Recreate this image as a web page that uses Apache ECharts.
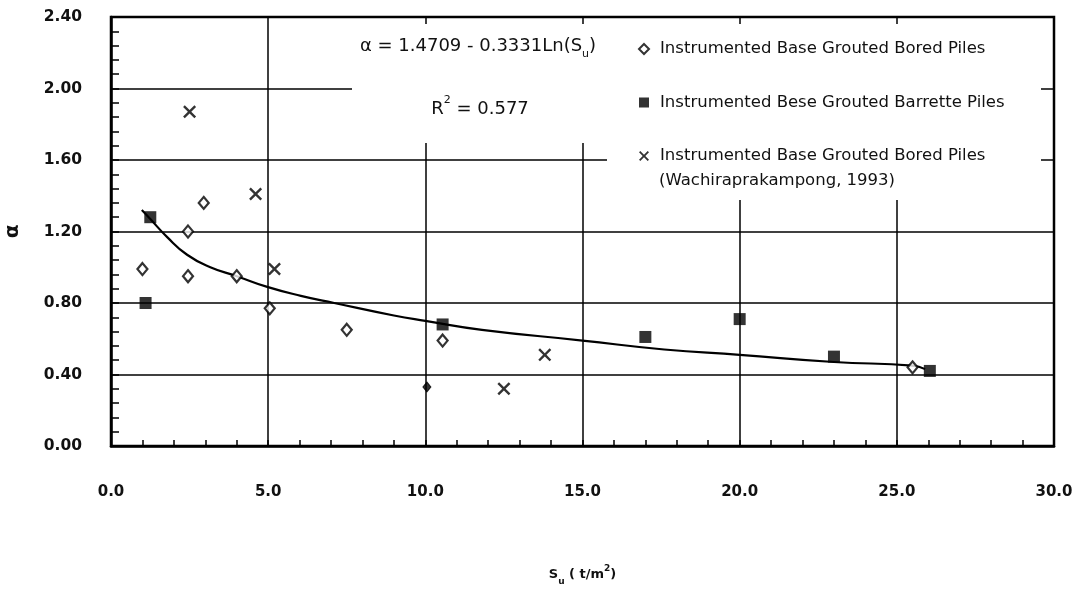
<!DOCTYPE html>
<html>
<head>
<meta charset="utf-8">
<script src="https://cdn.jsdelivr.net/npm/echarts@6/dist/echarts.min.js"></script>
<style>
html,body{margin:0;padding:0;background:#fff;}
#chart{width:1087px;height:603px;}
</style>
</head>
<body>
<div id="chart"></div>
<script>
// ---- data ----
const xTickLabels = ['0.0','5.0','10.0','15.0','20.0','25.0','30.0'];
const yTickLabels = ['0.00','0.40','0.80','1.20','1.60','2.00','2.40'];
const seriesNames = [
  'Instrumented Base Grouted Bored Piles',
  'Instrumented Bese Grouted Barrette Piles',
  'Instrumented Base Grouted Bored Piles (Wachiraprakampong, 1993)'
];
const boredPiles = [[1.0,0.99],[2.45,1.20],[2.45,0.95],[2.95,1.36],[4.0,0.95],[5.05,0.77],[7.5,0.65],[10.55,0.59],[25.5,0.44]];
const boredPilesSolid = [[10.05,0.33]];
const barrettePiles = [[1.1,0.80],[1.25,1.28],[10.55,0.68],[17.0,0.61],[20.0,0.71],[23.0,0.50],[26.05,0.42]];
const wachiraPiles = [[2.5,1.87],[4.6,1.41],[5.2,0.99],[12.5,0.32],[13.8,0.51]];
const trendLine = [[0.98,1.32],[1.25,1.27],[1.78,1.17],[2.42,1.07],[3.16,1.00],[4.0,0.95],[4.97,0.89],[6.04,0.84],[7.1,0.80],[9.0,0.73],[10.0,0.70],[11.8,0.65],[15.0,0.59],[17.6,0.54],[20.0,0.51],[23.0,0.47],[25.5,0.45],[25.9,0.43]];
const equationText = ['α = 1.4709 - 0.3331Ln(S', 'u', ')'];
const r2Text = ['R', '2', ' = 0.577'];
const legendExtraLine = '(Wachiraprakampong, 1993)';

// ---- chart ----
const FONT = 'DejaVu Sans';
const INK = '#111';
const crossPath = 'path://M0,1.3 L1.3,0 L5,3.7 L8.7,0 L10,1.3 L6.3,5 L10,8.7 L8.7,10 L5,6.3 L1.3,10 L0,8.7 L3.7,5 Z';

const chart = echarts.init(document.getElementById('chart'), null, {renderer:'canvas'});
const option = {
  backgroundColor: '#fff',
  animation: false,
  grid: {left:111, right:33, top:17, bottom:157, containLabel:false, outerBoundsMode:'none',
    show:true, borderColor:'#000', borderWidth:2.5, backgroundColor:'transparent'},
  xAxis: {
    type:'value', min:0, max:30, interval:5,
    name:'{a|S}{b|u}{a| ( t/m}{c|2}{a|)}',
    nameLocation:'middle', nameGap:118,
    nameTextStyle:{
      rich:{
        a:{fontFamily:FONT, fontSize:13, color:INK, fontWeight:'bold', lineHeight:22},
        b:{fontFamily:FONT, fontSize:9, color:INK, fontWeight:'bold', verticalAlign:'bottom', lineHeight:22},
        c:{fontFamily:FONT, fontSize:9, color:INK, fontWeight:'bold', verticalAlign:'top', lineHeight:22}
      }
    },
    axisLine:{show:true, lineStyle:{color:'#000', width:2.5}},
    axisTick:{show:true, inside:true, length:6, lineStyle:{color:'#000', width:1.5}},
    minorTick:{show:true, splitNumber:5, length:6, lineStyle:{color:'#000', width:1.5}},
    axisLabel:{margin:39, fontFamily:FONT, fontSize:15, fontWeight:'bold', color:INK,
      formatter:(v)=>xTickLabels[Math.round(v/5)]},
    splitLine:{show:true, lineStyle:{color:'#000', width:1.5}}
  },
  yAxis: {
    type:'value', min:0, max:2.4, interval:0.4,
    name:'α', nameLocation:'middle', nameGap:88, nameRotate:90,
    nameTextStyle:{fontFamily:FONT, fontSize:20, color:INK, fontWeight:'bold'},
    axisLine:{show:true, lineStyle:{color:'#000', width:2.5}},
    axisTick:{show:true, inside:true, length:8, lineStyle:{color:'#000', width:1.5}},
    minorTick:{show:true, splitNumber:5, length:8, lineStyle:{color:'#000', width:1.5}},
    axisLabel:{margin:29, fontFamily:FONT, fontSize:15.5, fontWeight:'bold', color:INK,
      formatter:(v)=>yTickLabels[Math.round(v/0.4)]},
    splitLine:{show:true, lineStyle:{color:'#000', width:1.5}}
  },
  legend: {
    show:true, orient:'vertical', left:633, top:34, itemWidth:10, itemHeight:10, itemGap:33.5,
    selectedMode:false,
    data: seriesNames.map(n=>({name:n})),
    formatter:(n)=> n === seriesNames[2] ? seriesNames[0] : n,
    textStyle:{fontFamily:FONT, fontSize:16.5, color:INK, lineHeight:20, padding:[0,0,0,6]}
  },
  graphic: {
    elements: [
      {type:'rect', z:1, shape:{x:352, y:24, width:256, height:119}, style:{fill:'#fff'}, silent:true},
      {type:'rect', z:1, shape:{x:607, y:24, width:434, height:176}, style:{fill:'#fff'}, silent:true},
      {type:'text', z:10, x:478, y:46, style:{
        text:'{a|'+equationText[0]+'}{b|'+equationText[1]+'}{a|'+equationText[2]+'}',
        align:'center', verticalAlign:'middle',
        rich:{
          a:{fontFamily:FONT, fontSize:18, fill:INK, lineHeight:28},
          b:{fontFamily:FONT, fontSize:11, fill:INK, verticalAlign:'bottom', lineHeight:28}
        }
      }},
      {type:'text', z:10, x:480, y:109, style:{
        text:'{a|'+r2Text[0]+'}{c|'+r2Text[1]+'}{a|'+r2Text[2]+'}',
        align:'center', verticalAlign:'middle',
        rich:{
          a:{fontFamily:FONT, fontSize:18, fill:INK, lineHeight:28},
          c:{fontFamily:FONT, fontSize:11, fill:INK, verticalAlign:'top', lineHeight:28}
        }
      }},
      {type:'text', z:10, x:659, y:181, style:{
        text:legendExtraLine, align:'left', verticalAlign:'middle',
        font:'16.5px "DejaVu Sans"', fill:INK
      }}
    ]
  },
  series: [
    {
      name:'trend', type:'line', data:trendLine, smooth:true, showSymbol:false, symbol:'none',
      lineStyle:{color:'#000', width:2.2}, z:3, silent:true
    },
    {
      name:seriesNames[0], type:'scatter', data:boredPiles, symbol:'diamond', symbolSize:[10,12],
      itemStyle:{color:'#fff', borderColor:'#000', borderWidth:2.2}, z:5
    },
    {
      name:seriesNames[0], type:'scatter', data:boredPilesSolid, symbol:'diamond', symbolSize:[8,10],
      itemStyle:{color:'#000', borderColor:'#000', borderWidth:1}, z:5
    },
    {
      name:seriesNames[1], type:'scatter', data:barrettePiles, symbol:'rect', symbolSize:12,
      itemStyle:{color:'#000'}, z:5
    },
    {
      name:seriesNames[2], type:'scatter', data:wachiraPiles, symbol:crossPath, symbolSize:13,
      itemStyle:{color:'#000'}, z:5
    }
  ]
};
chart.setOption(option);
</script>
</body>
</html>
